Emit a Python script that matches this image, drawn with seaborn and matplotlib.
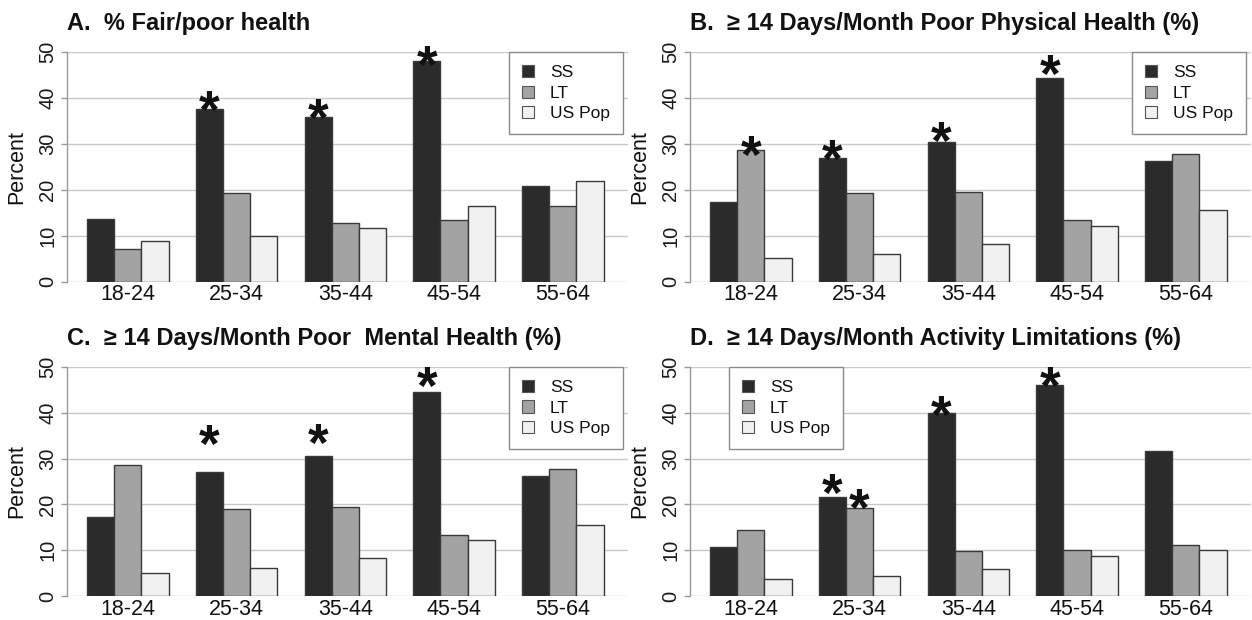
import matplotlib
matplotlib.use("Agg")
import matplotlib.pyplot as plt
import pandas as pd
import seaborn as sns

# ---- data -------------------------------------------------------------
age_groups = ["18-24", "25-34", "35-44", "45-54", "55-64"]
series_names = ["SS", "LT", "US Pop"]

fair_poor_ss = [13.7, 37.7, 36.0, 48.1, 20.9]
fair_poor_lt = [7.2, 19.3, 12.9, 13.4, 16.6]
fair_poor_us = [8.8, 10.0, 11.8, 16.6, 21.9]

physical_ss = [17.3, 26.9, 30.5, 44.5, 26.2]
physical_lt = [28.6, 19.3, 19.5, 13.4, 27.8]
physical_us = [5.1, 6.0, 8.2, 12.1, 15.6]

mental_ss = [17.2, 27.0, 30.6, 44.5, 26.3]
mental_lt = [28.6, 19.1, 19.4, 13.4, 27.7]
mental_us = [5.0, 6.2, 8.4, 12.3, 15.6]

activity_ss = [10.8, 21.6, 39.9, 46.1, 31.6]
activity_lt = [14.4, 19.2, 9.9, 10.0, 11.2]
activity_us = [3.7, 4.4, 5.8, 8.7, 10.1]

# significance markers: (age group index, series index, height of marker centre)
stars_a = [(1, 0, 39.4), (2, 0, 37.8), (3, 0, 49.4)]
stars_b = [(0, 1, 29.6), (1, 0, 28.8), (2, 0, 32.7), (3, 0, 47.4)]
stars_c = [(1, 0, 35.2), (2, 0, 35.5), (3, 0, 47.9)]
stars_d = [(1, 0, 24.5), (1, 1, 21.3), (2, 0, 41.6), (3, 0, 47.9)]

titles = [
    "A.  % Fair/poor health",
    "B.  \u2265 14 Days/Month Poor Physical Health (%)",
    "C.  \u2265 14 Days/Month Poor  Mental Health (%)",
    "D.  \u2265 14 Days/Month Activity Limitations (%)",
]

panels = [
    (titles[0], [fair_poor_ss, fair_poor_lt, fair_poor_us], stars_a, "upper right"),
    (titles[1], [physical_ss, physical_lt, physical_us], stars_b, "upper right"),
    (titles[2], [mental_ss, mental_lt, mental_us], stars_c, "upper right"),
    (titles[3], [activity_ss, activity_lt, activity_us], stars_d, "upper left"),
]

bar_colors = ["#2b2b2b", "#a3a3a3", "#f1f1f1"]

# ---- style ------------------------------------------------------------
sns.set_style("white")
plt.rcParams["font.family"] = ["Liberation Sans", "DejaVu Sans"]
plt.rcParams["text.color"] = "#111111"

W, H = 1252, 620
fig = plt.figure(figsize=(W / 100, H / 100), dpi=100)

# axes boxes in pixels: (left, right, y of value 0, y of value 50)
boxes = [
    (67, 628, 281.7, 52.3),
    (690, 1251, 281.7, 52.3),
    (67, 628, 596.0, 367.0),
    (690, 1251, 596.0, 367.0),
]

BAR_W = 0.75
STAR_FS = 38

for (title, values, stars, legend_loc), (l, r, y0, y50) in zip(panels, boxes):
    ax = fig.add_axes([l / W, 1 - y0 / H, (r - l) / W, (y0 - y50) / H])

    df = pd.DataFrame({
        "age": age_groups * 3,
        "group": [s for s in series_names for _ in age_groups],
        "value": values[0] + values[1] + values[2],
    })
    sns.barplot(
        data=df, x="age", y="value", hue="group",
        order=age_groups, hue_order=series_names,
        palette=bar_colors, edgecolor="#3a3a3a", linewidth=1.0,
        width=BAR_W, errorbar=None, ax=ax, legend=True,
    )

    ax.set_ylim(0, 50)
    ax.set_xlim(-0.56, 4.6)
    ax.set_yticks([0, 10, 20, 30, 40, 50])
    ax.set_yticklabels(["0", "10", "20", "30", "40", "50"], rotation=90, va="center")
    ax.yaxis.grid(True, color="#c9c9c9", linewidth=1.0)
    ax.set_axisbelow(True)
    for side in ("top", "right", "bottom"):
        ax.spines[side].set_visible(False)
    ax.spines["left"].set_color("#9a9a9a")
    ax.spines["left"].set_linewidth(1.0)
    ax.tick_params(axis="y", length=4, width=1, color="#9a9a9a",
                   labelsize=14.5, pad=3, labelcolor="#1a1a1a", left=True)
    ax.tick_params(axis="x", length=0, labelsize=15.5, pad=2, labelcolor="#111111")
    ax.set_xlabel("")
    ax.set_ylabel("Percent", fontsize=15.5, labelpad=8, color="#111111")
    ax.set_title(title, loc="left", fontsize=17, fontweight="bold", pad=16,
                 color="#111111")

    # significance asterisks centred on the flagged bars
    step = BAR_W / 3
    for gi, si, yc in stars:
        xc = gi + (si - 1) * step
        ax.annotate("*", xy=(xc, yc), xytext=(0, -0.52 * STAR_FS),
                    textcoords="offset points", ha="center", va="baseline",
                    fontsize=STAR_FS, fontweight="bold", color="#111111",
                    annotation_clip=False)

    handles, labels = ax.get_legend_handles_labels()
    if legend_loc == "upper right":
        anchor = (1 - 5 / (r - l), 1.0)
    else:
        anchor = (39 / (r - l), 1.0)
    leg = ax.legend(handles, labels, loc=legend_loc, bbox_to_anchor=anchor,
                    borderaxespad=0, fontsize=12.5, frameon=True, fancybox=False,
                    framealpha=1, edgecolor="#8a8a8a", handlelength=0.7,
                    handleheight=0.7, handletextpad=0.9, labelspacing=0.3,
                    borderpad=0.75, title=None)
    leg.get_frame().set_linewidth(1.0)
    for h in leg.legend_handles:
        h.set_edgecolor("#555555")
        h.set_linewidth(0.8)

fig.savefig("out.png", dpi=100)
